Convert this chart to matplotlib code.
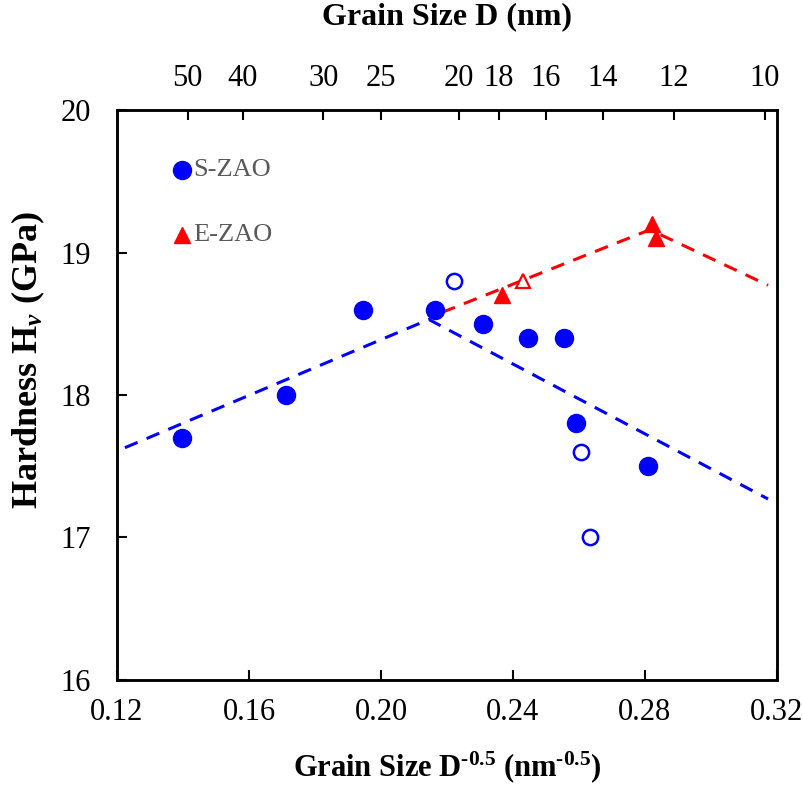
import matplotlib
matplotlib.use('Agg')
import matplotlib.pyplot as plt
import numpy as np

# S-ZAO, filled circles
s_x = [0.1397, 0.1712, 0.1945, 0.2164, 0.2309, 0.2445, 0.2555, 0.2591, 0.2809]
s_y = [17.70, 18.00, 18.60, 18.60, 18.50, 18.40, 18.40, 17.80, 17.50]
# S-ZAO, open circles
s_open_x = [0.2221, 0.2606, 0.2633]
s_open_y = [18.80, 17.60, 17.00]
# E-ZAO, filled triangles
e_x = [0.2367, 0.2821, 0.2833]
e_y = [18.70, 19.20, 19.10]
# E-ZAO, open triangle
e_open_x = [0.2430]
e_open_y = [18.80]

# dashed trend lines (vertices)
s_line_x = [0.1224, 0.2145, 0.3173]
s_line_y = [17.63, 18.53, 17.27]
e_line_x = [0.2185, 0.2815, 0.3173]
e_line_y = [18.58, 19.16, 18.77]

x_ticks = [0.12, 0.16, 0.20, 0.24, 0.28, 0.32]
y_ticks = [16, 17, 18, 19, 20]
top_sizes = [50, 40, 30, 25, 20, 18, 16, 14, 12, 10]

plt.rcParams['font.family'] = ['Liberation Serif', 'DejaVu Serif']
plt.rcParams['mathtext.fontset'] = 'custom'
plt.rcParams['mathtext.rm'] = 'Liberation Serif:bold'
plt.rcParams['mathtext.it'] = 'Liberation Serif:italic:bold'
plt.rcParams['mathtext.bf'] = 'Liberation Serif:bold'

fig = plt.figure(figsize=(8.04, 7.87), dpi=100)
ax = fig.add_axes([0.1455, 0.136, 0.8209, 0.7242])

blue = '#0000ff'
red = '#ff0000'

ax.plot(s_line_x, s_line_y, color=blue, lw=2.2, dashes=(4.5, 3.2), zorder=2)
ax.plot(e_line_x, e_line_y, color=red, lw=2.2, dashes=(4.5, 3.2), zorder=2)

ax.plot(s_x, s_y, 'o', color=blue, ms=13, mec=blue, zorder=3)
ax.plot(s_open_x, s_open_y, 'o', mfc='white', mec=blue, mew=1.8, ms=11, zorder=3)
ax.plot(e_x, e_y, '^', color=red, ms=12, mec=red, zorder=3)
ax.plot(e_open_x, e_open_y, '^', mfc='white', mec=red, mew=1.6, ms=10, zorder=3)

# legend drawn by hand
ax.plot([0.1397], [19.58], 'o', color=blue, ms=13, zorder=3)
ax.plot([0.1397], [19.12], '^', color=red, ms=12, zorder=3)
ax.text(0.1432, 19.58, 'S-ZAO', color='#595959', fontsize=19, va='center', ha='left')
ax.text(0.1432, 19.12, 'E-ZAO', color='#595959', fontsize=19, va='center', ha='left')

ax.set_xlim(0.12, 0.32)
ax.set_ylim(16, 20)
ax.set_xticks(x_ticks)
ax.set_xticklabels([f'{v:.2f}' for v in x_ticks])
ax.set_yticks(y_ticks)
ax.tick_params(direction='in', length=7, width=1.5, labelsize=22, pad=13)
ax.tick_params(axis='y', pad=19)
for sp in ax.spines.values():
    sp.set_linewidth(1.8)

ax.set_xlabel(r'Grain Size D$^{\text{-0.5}}$ (nm$^{\text{-0.5}}$)',
              fontsize=22, fontweight='bold', labelpad=16)
ax.set_ylabel(r'Hardness H$_{v}$ (GPa)', fontsize=26, fontweight='bold')
ax.yaxis.set_label_coords(-0.106, 0.561)

top = ax.twiny()
top.set_xlim(ax.get_xlim())
top.set_xticks([d ** -0.5 for d in top_sizes])
top.set_xticklabels([str(d) for d in top_sizes])
top.tick_params(direction='in', length=7, width=1.5, labelsize=22, pad=12)
top.set_xlabel('Grain Size D (nm)', fontsize=23, fontweight='bold', labelpad=29)
for sp in top.spines.values():
    sp.set_linewidth(1.8)

fig.savefig('out.png', dpi=100)
